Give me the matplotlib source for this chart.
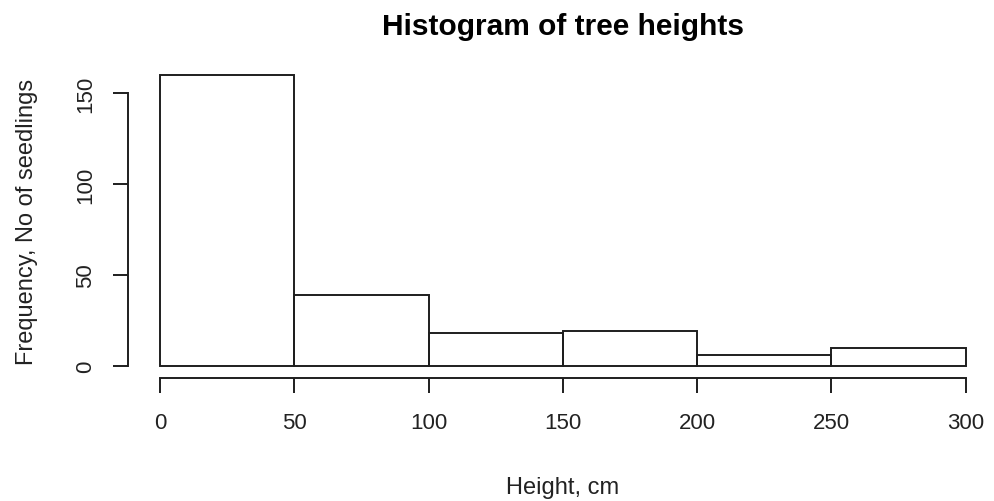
import matplotlib.pyplot as plt

# tree height histogram, counts per 50 cm class
edges = [0, 50, 100, 150, 200, 250, 300]
counts = [160, 39, 18, 19, 6, 10]
xticks = [0, 50, 100, 150, 200, 250, 300]
yticks = [0, 50, 100, 150]

plt.rcParams['font.family'] = ['Liberation Sans', 'DejaVu Sans']

fig = plt.figure(figsize=(9.94, 5.02), dpi=100)
# plot region in pixels: left 128, bottom edge 378.6, top 64.3, width 870
ax = fig.add_axes([127.8 / 994, (502 - 378.6) / 502, 870 / 994, 314.3 / 502])

widths = [edges[i + 1] - edges[i] for i in range(len(counts))]
ax.bar(edges[:-1], counts, width=widths, align='edge', fill=False,
       edgecolor='#1e1e1e', linewidth=1.4)

ax.set_xlim(-12, 312)
ax.set_ylim(-6.4, 166.4)

for s in ['top', 'right']:
    ax.spines[s].set_visible(False)
ax.spines['left'].set_bounds(0, 150)
ax.spines['bottom'].set_bounds(0, 300)
for s in ['left', 'bottom']:
    ax.spines[s].set_linewidth(1.4)
    ax.spines[s].set_color('#1e1e1e')

ax.set_xticks(xticks)
ax.set_yticks(yticks)
ax.tick_params(axis='both', length=10.5, width=1.4, color='#1e1e1e',
               labelsize=16, labelcolor='#222222')
ax.tick_params(axis='x', pad=14)
ax.tick_params(axis='y', pad=12)
for lab in ax.get_yticklabels():
    lab.set_rotation(90)
    lab.set_va('center')

ax.set_title('Histogram of tree heights', fontsize=21.5, fontweight='bold',
             pad=21)
ax.set_xlabel('Height, cm', fontsize=17, labelpad=31, color='#222222')
ax.set_ylabel('Frequency, No of seedlings', fontsize=17, labelpad=27,
              color='#222222')

fig.savefig('out.png', dpi=100, facecolor='white')
